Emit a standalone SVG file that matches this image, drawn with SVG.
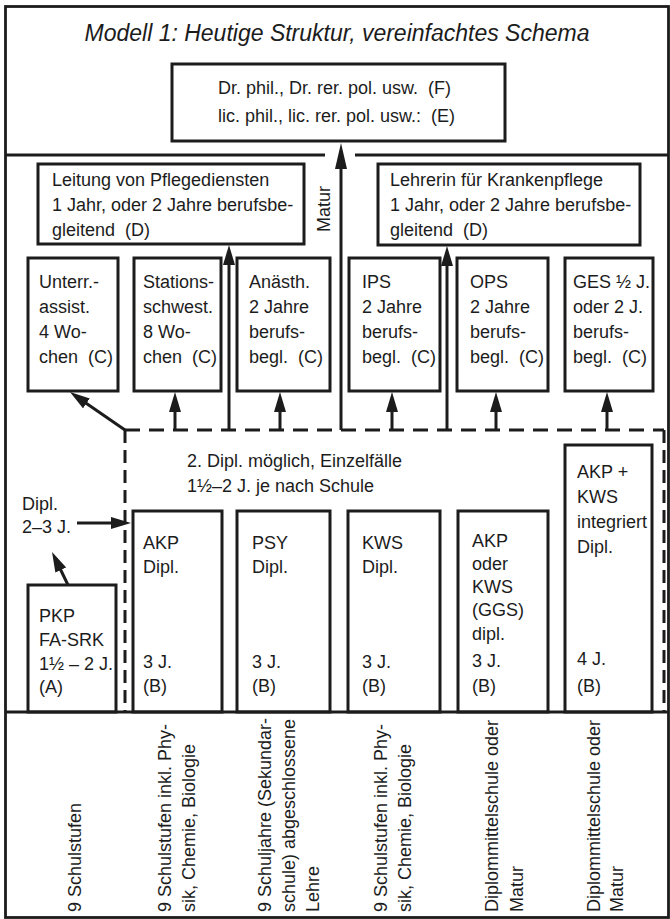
<svg xmlns="http://www.w3.org/2000/svg" width="670" height="919" viewBox="0 0 670 919">
<style>
 .bx{fill:none;stroke:#1c1c1c;stroke-width:3}
 .ln{fill:none;stroke:#1c1c1c;stroke-width:2.8}
 .dash{fill:none;stroke:#1c1c1c;stroke-width:3;stroke-dasharray:15 9}
 .t{font-family:"Liberation Sans",Arial,Helvetica,sans-serif;font-size:18px;fill:#1c1c1c;white-space:pre}
 .ti{font-style:italic;font-size:23px}
 .arr{fill:none;stroke:#1c1c1c;stroke-width:3;marker-end:url(#ah)}
 .arrL{fill:none;stroke:#1c1c1c;stroke-width:3;marker-end:url(#ahL)}
</style>
<defs>
 <marker id="ah" viewBox="0 0 20 12" refX="10" refY="6" markerWidth="20" markerHeight="12" markerUnits="userSpaceOnUse" orient="auto"><path d="M0,0 L20,6 L0,12 z" fill="#1c1c1c"/></marker>
 <marker id="ahL" viewBox="0 0 26 12" refX="14" refY="6" markerWidth="26" markerHeight="12" markerUnits="userSpaceOnUse" orient="auto"><path d="M0,0 L26,6 L0,12 z" fill="#1c1c1c"/></marker>
</defs>
<rect width="670" height="919" fill="#ffffff"/>

<g id="frame">
 <rect class="ln" x="5.5" y="6.5" width="663" height="911"/>
 <path class="ln" d="M5,155 H325 M355,155 H669 M5,712 H669" stroke-width="3.2"/>
 <text class="t ti" x="337" y="41" text-anchor="middle">Modell 1: Heutige Struktur, vereinfachtes Schema</text>
</g>

<g id="node-FE">
 <rect class="bx" x="172" y="64" width="333" height="77"/>
 <text class="t" x="218" y="94">Dr. phil., Dr. rer. pol. usw.  (F)</text>
 <text class="t" x="218" y="122">lic. phil., lic. rer. pol. usw.:  (E)</text>
</g>

<g id="node-leitung">
 <rect class="bx" x="38" y="164" width="266" height="80"/>
 <text class="t" x="52" y="186">Leitung von Pflegediensten</text>
 <text class="t" x="52" y="211">1 Jahr, oder 2 Jahre berufsbe-</text>
 <text class="t" x="52" y="236">gleitend  (D)</text>
</g>

<g id="node-lehrerin">
 <rect class="bx" x="378" y="164" width="262" height="81"/>
 <text class="t" x="390" y="186">Lehrerin für Krankenpflege</text>
 <text class="t" x="390" y="211">1 Jahr, oder 2 Jahre berufsbe-</text>
 <text class="t" x="390" y="236">gleitend  (D)</text>
</g>

<g id="node-unterr">
 <rect class="bx" x="28" y="258" width="90" height="133"/>
 <text class="t" x="39" y="288">Unterr.-</text>
 <text class="t" x="39" y="313">assist.</text>
 <text class="t" x="39" y="338">4 Wo-</text>
 <text class="t" x="39" y="363">chen  (C)</text>
</g>
<g id="node-stations">
 <rect class="bx" x="134" y="258" width="87" height="133"/>
 <text class="t" x="143" y="288">Stations-</text>
 <text class="t" x="143" y="313">schwest.</text>
 <text class="t" x="143" y="338">8 Wo-</text>
 <text class="t" x="143" y="363">chen  (C)</text>
</g>
<g id="node-anaesth">
 <rect class="bx" x="237" y="258" width="93" height="133"/>
 <text class="t" x="249" y="288">Anästh.</text>
 <text class="t" x="249" y="313">2 Jahre</text>
 <text class="t" x="249" y="338">berufs-</text>
 <text class="t" x="249" y="363">begl.  (C)</text>
</g>
<g id="node-ips">
 <rect class="bx" x="349" y="258" width="91" height="133"/>
 <text class="t" x="362" y="288">IPS</text>
 <text class="t" x="362" y="313">2 Jahre</text>
 <text class="t" x="362" y="338">berufs-</text>
 <text class="t" x="362" y="363">begl.  (C)</text>
</g>
<g id="node-ops">
 <rect class="bx" x="457" y="258" width="91" height="133"/>
 <text class="t" x="470" y="288">OPS</text>
 <text class="t" x="470" y="313">2 Jahre</text>
 <text class="t" x="470" y="338">berufs-</text>
 <text class="t" x="470" y="363">begl.  (C)</text>
</g>
<g id="node-ges">
 <rect class="bx" x="565" y="258" width="88" height="133"/>
 <text class="t" x="573" y="288">GES ½ J.</text>
 <text class="t" x="573" y="313">oder 2 J.</text>
 <text class="t" x="573" y="338">berufs-</text>
 <text class="t" x="573" y="363">begl.  (C)</text>
</g>

<g id="node-dashed">
 <path class="dash" d="M125,430 H664"/>
 <path class="dash" d="M125,430 V712 M664,430 V712" style="stroke-dasharray:13 7"/>
 <text class="t" x="187" y="467">2. Dipl. möglich, Einzelfälle</text>
 <text class="t" x="187" y="492">1½–2 J. je nach Schule</text>
</g>

<g id="node-pkp">
 <rect class="bx" x="28" y="585" width="88" height="127"/>
 <text class="t" x="39" y="622">PKP</text>
 <text class="t" x="39" y="646">FA-SRK</text>
 <text class="t" x="39" y="670">1½ – 2 J.</text>
 <text class="t" x="39" y="693">(A)</text>
</g>
<g id="label-dipl">
 <text class="t" x="22" y="510">Dipl.</text>
 <text class="t" x="22" y="533">2–3 J.</text>
</g>
<g id="node-akp">
 <rect class="bx" x="133" y="511" width="89" height="201"/>
 <text class="t" x="143" y="549">AKP</text>
 <text class="t" x="143" y="573">Dipl.</text>
 <text class="t" x="143" y="668">3 J.</text>
 <text class="t" x="143" y="692">(B)</text>
</g>
<g id="node-psy">
 <rect class="bx" x="237" y="511" width="93" height="201"/>
 <text class="t" x="252" y="549">PSY</text>
 <text class="t" x="252" y="573">Dipl.</text>
 <text class="t" x="252" y="668">3 J.</text>
 <text class="t" x="252" y="692">(B)</text>
</g>
<g id="node-kws">
 <rect class="bx" x="348" y="511" width="92" height="201"/>
 <text class="t" x="362" y="549">KWS</text>
 <text class="t" x="362" y="573">Dipl.</text>
 <text class="t" x="362" y="668">3 J.</text>
 <text class="t" x="362" y="692">(B)</text>
</g>
<g id="node-akpoder">
 <rect class="bx" x="458" y="511" width="90" height="201"/>
 <text class="t" x="472" y="547">AKP</text>
 <text class="t" x="472" y="570">oder</text>
 <text class="t" x="472" y="593">KWS</text>
 <text class="t" x="472" y="616">(GGS)</text>
 <text class="t" x="472" y="640">dipl.</text>
 <text class="t" x="472" y="667">3 J.</text>
 <text class="t" x="472" y="692">(B)</text>
</g>
<g id="node-akpkws">
 <rect class="bx" x="565" y="445" width="87" height="267"/>
 <text class="t" x="577" y="478">AKP +</text>
 <text class="t" x="577" y="503">KWS</text>
 <text class="t" x="577" y="528">integriert</text>
 <text class="t" x="577" y="553">Dipl.</text>
 <text class="t" x="577" y="665">4 J.</text>
 <text class="t" x="577" y="692">(B)</text>
</g>

<g id="bottom-labels">
 <text class="t" transform="translate(81,912) rotate(-90)">9 Schulstufen</text>
 <text class="t" transform="translate(171,912) rotate(-90)"><tspan x="0" y="0">9 Schulstufen inkl. Phy-</tspan><tspan x="0" y="24">sik, Chemie, Biologie</tspan></text>
 <text class="t" transform="translate(271,912) rotate(-90)"><tspan x="0" y="0">9 Schuljahre (Sekundar-</tspan><tspan x="0" y="24">schule) abgeschlossene</tspan><tspan x="0" y="48">Lehre</tspan></text>
 <text class="t" transform="translate(387,912) rotate(-90)"><tspan x="0" y="0">9 Schulstufen inkl. Phy-</tspan><tspan x="0" y="24">sik, Chemie, Biologie</tspan></text>
 <text class="t" transform="translate(498,912) rotate(-90)"><tspan x="0" y="0">Diplommittelschule oder</tspan><tspan x="0" y="25">Matur</tspan></text>
 <text class="t" transform="translate(600,912) rotate(-90)"><tspan x="0" y="0">Diplommittelschule oder</tspan><tspan x="0" y="23">Matur</tspan></text>
</g>

<g id="connectors">
 <line class="arrL" x1="341" y1="430" x2="341" y2="155"/>
 <text class="t" transform="translate(330,232) rotate(-90)">Matur</text>
 <line class="arr" x1="229" y1="431" x2="229" y2="255"/>
 <line class="arr" x1="447" y1="431" x2="447" y2="256"/>
 <line class="arr" x1="175" y1="430" x2="175" y2="402"/>
 <line class="arr" x1="280" y1="430" x2="280" y2="402"/>
 <line class="arr" x1="392" y1="430" x2="392" y2="402"/>
 <line class="arr" x1="496" y1="430" x2="496" y2="402"/>
 <line class="arr" x1="607" y1="430" x2="607" y2="402"/>
 <line class="arr" x1="125" y1="430" x2="78.2" y2="397.7"/>
 <line class="arr" x1="68" y1="585" x2="56.4" y2="561"/>
 <line class="arr" x1="77" y1="523" x2="121" y2="523"/>
</g>
</svg>
